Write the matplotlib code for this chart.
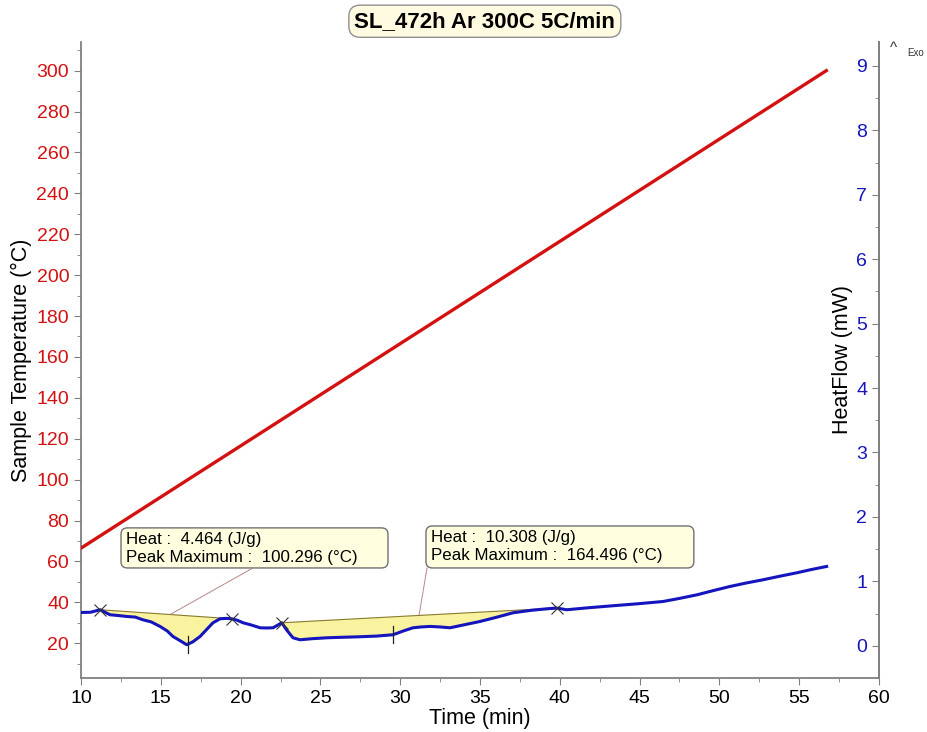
import numpy as np
import matplotlib
matplotlib.use('Agg')
import matplotlib.pyplot as plt
from matplotlib.ticker import MultipleLocator
from matplotlib.patches import FancyBboxPatch

plt.rcParams['font.family'] = ['Liberation Sans', 'DejaVu Sans']

# sample temperature ramp (5 C/min)
temp_time = [10.0, 56.7]
temp_vals = [66.5, 300.0]

# heat flow trace (mW)
hf_time = [10.04, 10.60, 11.19, 11.82, 12.30, 12.86, 13.40, 13.88, 14.40, 14.95,
           15.40, 15.76, 16.20, 16.62, 17.00, 17.46, 17.90, 18.27, 18.71, 19.10,
           19.44, 19.80, 20.15, 20.70, 21.22, 21.60, 22.03, 22.58, 22.90, 23.28,
           23.72, 24.50, 25.41, 26.40, 27.48, 28.50, 29.55, 30.20, 30.80, 31.30,
           31.87, 32.50, 33.12, 34.00, 35.00, 36.00, 37.07, 38.20, 39.20, 39.81,
           40.43, 41.80, 43.33, 44.90, 46.47, 47.50, 48.60, 49.60, 50.66, 51.70,
           52.73, 53.80, 54.86, 55.80, 56.72]
hf_vals = [0.517, 0.520, 0.559, 0.481, 0.470, 0.455, 0.445, 0.403, 0.370, 0.300,
           0.230, 0.144, 0.080, 0.016, 0.060, 0.144, 0.260, 0.357, 0.419, 0.425,
           0.419, 0.395, 0.357, 0.320, 0.279, 0.276, 0.279, 0.357, 0.240, 0.124,
           0.093, 0.110, 0.124, 0.132, 0.140, 0.150, 0.171, 0.230, 0.279, 0.292,
           0.300, 0.292, 0.279, 0.325, 0.377, 0.440, 0.512, 0.550, 0.574, 0.585,
           0.559, 0.590, 0.621, 0.652, 0.687, 0.735, 0.791, 0.855, 0.920, 0.975,
           1.024, 1.080, 1.133, 1.185, 1.231]

# integration limits (start, end) and peak times
peak_limits = [(11.19, 19.44), (22.58, 39.81)]
peak_times = [16.7, 29.55]
peak_labels = ['Heat :  4.464 (J/g)\nPeak Maximum :  100.296 (°C)',
               'Heat :  10.308 (J/g)\nPeak Maximum :  164.496 (°C)']
label_anchor_t = [15.58, 31.18]

gray = '#808080'
red = '#d41111'
blue = '#1515c0'

fig = plt.figure(figsize=(9.27, 7.32), dpi=100)
ax = fig.add_axes([0.0874, 0.0738, 0.8608, 0.8688])
ax2 = ax.twinx()

ax.plot(temp_time, temp_vals, color=red, lw=2.4, zorder=3)
ax.set_xlim(10, 60)
ax.set_ylim(3, 314)
ax.xaxis.set_major_locator(MultipleLocator(5))
ax.xaxis.set_minor_locator(MultipleLocator(2.5))
ax.yaxis.set_major_locator(MultipleLocator(20))
ax.yaxis.set_minor_locator(MultipleLocator(10))
ax.tick_params(axis='both', which='both', color=gray, direction='out')
ax.tick_params(axis='both', which='major', length=5, labelsize=14)
ax.tick_params(axis='both', which='minor', length=3)
ax.tick_params(axis='y', colors=gray, labelcolor=red)
ax.tick_params(axis='x', labelcolor='black')
ax.set_xlabel('Time (min)', fontsize=15.5, labelpad=1)
ax.set_ylabel('Sample Temperature (°C)', fontsize=15.5, labelpad=3)
ax.spines['top'].set_visible(False)
for s in ['left', 'bottom', 'right']:
    ax.spines[s].set_color(gray)
    ax.spines[s].set_linewidth(1.3)

# heat flow axis, drawn on the right spine with labels inside
t = np.array(hf_time)
h = np.array(hf_vals)
ax2.plot(t, h, color=blue, lw=2.2, zorder=4)
for (t0, t1) in peak_limits:
    h0, h1 = np.interp([t0, t1], t, h)
    tt = np.linspace(t0, t1, 300)
    base = np.interp(tt, [t0, t1], [h0, h1])
    curve = np.interp(tt, t, h)
    ax2.fill_between(tt, base, curve, color='#f9f3a0', zorder=2)
    ax2.plot([t0, t1], [h0, h1], color='#8a7a30', lw=0.8, zorder=3)
    ax2.plot([t0, t1], [h0, h1], ls='none', marker='x', ms=9, mew=0.8,
             color='#333333', zorder=5)
for tp in peak_times:
    hp = np.interp(tp, t, h)
    ax2.plot([tp, tp], [hp - 0.13, hp + 0.13], color='#222222', lw=0.9, zorder=5)

# result boxes (axes fraction: x0, x1, y0, y1) and leader start on box edge
boxes = [(0.0501, 0.3847, 0.173, 0.236), (0.4323, 0.768, 0.173, 0.239)]
leader_x = [0.2155, 0.4336]
for lab, ta, (x0, x1, y0, y1), lx, lim in zip(peak_labels, label_anchor_t, boxes,
                                               leader_x, peak_limits):
    hb = np.interp(ta, list(lim), list(np.interp(list(lim), t, h)))
    patch = FancyBboxPatch((x0, y0), x1 - x0, y1 - y0,
                           boxstyle='round,pad=0,rounding_size=0.008',
                           transform=ax2.transAxes, fc='#ffffe0', ec='#707070',
                           lw=1, zorder=6, mutation_aspect=1.25)
    ax2.add_patch(patch)
    ax2.text(x0 + 0.0065, y1 - 0.006, lab, transform=ax2.transAxes, ha='left',
             va='top', fontsize=12.2, linespacing=1.28, zorder=7)
    ax2.annotate('', xy=(ta, hb), xycoords='data', xytext=(lx, y0),
                 textcoords='axes fraction',
                 arrowprops=dict(arrowstyle='-', color='#b08080', lw=0.8,
                                 ls=(0, (1, 1)), shrinkA=0, shrinkB=0),
                 zorder=6)

ax2.set_ylim(-0.5, 9.37)
ax2.yaxis.set_major_locator(MultipleLocator(1))
ax2.yaxis.set_minor_locator(MultipleLocator(0.5))
ax2.yaxis.tick_left()
ax2.yaxis.set_label_position('left')
ax2.spines['left'].set_position(('axes', 1.0))
ax2.spines['left'].set_color(gray)
ax2.spines['left'].set_linewidth(1.3)
for s in ['top', 'right', 'bottom']:
    ax2.spines[s].set_visible(False)
ax2.tick_params(axis='y', which='both', color=gray, labelcolor=blue, direction='out')
ax2.tick_params(axis='y', which='major', length=5, labelsize=14)
ax2.tick_params(axis='y', which='minor', length=3)
ax2.set_ylabel('HeatFlow (mW)', fontsize=15.5, labelpad=2)

fig.text(0.960, 0.934, '^', fontsize=11, ha='left', va='center', color='#333333')
fig.text(0.979, 0.927, 'Exo', fontsize=7, ha='left', va='center', color='#333333')

fig.text(0.523, 0.971, 'SL_472h Ar 300C 5C/min', fontsize=16, fontweight='bold',
         ha='center', va='center',
         bbox=dict(boxstyle='round,pad=0.25,rounding_size=0.5', fc='#fffbe0',
                   ec='#909090', lw=1))

fig.savefig('out.png', dpi=100)
